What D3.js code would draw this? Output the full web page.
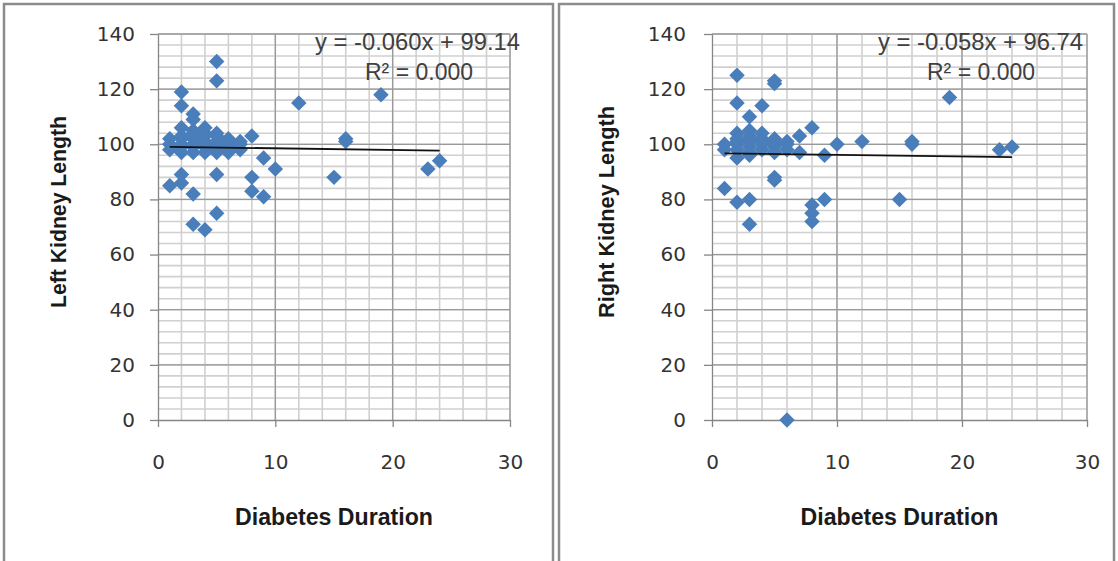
<!DOCTYPE html>
<html>
<head>
<meta charset="utf-8">
<script src="https://cdn.jsdelivr.net/npm/d3@7"></script>
<style>
body { margin: 0; background: #fff; }
</style>
</head>
<body>
<div id="chart"></div>
<script>

// left kidney: diabetes duration (years) vs length
var leftDuration = [1, 1, 1, 1,
	2, 2, 2, 2, 2, 2, 2, 2, 2, 2,
	3, 3, 3, 3, 3, 3, 3, 3, 3, 3,
	4, 4, 4, 4, 4, 4, 4, 4,
	5, 5, 5, 5, 5, 5, 5, 5, 5, 5,
	6, 6, 6, 6, 7, 7, 7, 8, 8, 8, 9, 9, 10, 12, 15, 16, 16, 19, 23, 24];
var leftLength = [100, 102, 98, 85,
	119, 114, 106, 103, 102, 100, 99, 97, 89, 86,
	111, 109, 105, 104, 102, 100, 99, 97, 82, 71,
	106, 104, 103, 101, 100, 99, 97, 69,
	130, 123, 104, 103, 101, 100, 98, 97, 89, 75,
	102, 101, 99, 97, 98, 100, 101, 103, 88, 83, 95, 81, 91, 115, 88, 101, 102, 118, 91, 94];

// right kidney
var rightDuration = [1, 1, 1,
	2, 2, 2, 2, 2, 2, 2, 2, 2,
	3, 3, 3, 3, 3, 3, 3, 3, 3, 3,
	4, 4, 4, 4, 4, 4,
	5, 5, 5, 5, 5, 5, 5, 5, 5,
	6, 6, 6, 6, 7, 7, 8, 8, 8, 8, 9, 9, 10, 12, 15, 16, 16, 19, 23, 24];
var rightLength = [100, 98, 84,
	125, 115, 104, 102, 101, 100, 98, 95, 79,
	110, 105, 103, 102, 101, 99, 97, 96, 80, 71,
	114, 104, 102, 101, 100, 98,
	123, 122, 102, 101, 100, 99, 97, 88, 87,
	101, 100, 98, 0, 103, 97, 106, 78, 75, 72, 96, 80, 100, 101, 80, 100, 101, 117, 98, 99];

// linear trendlines as printed on the charts
var trendSlopes = [-0.060, -0.058];
var trendIntercepts = [99.14, 96.74];
var equationLabels = ["y = -0.060x + 99.14", "y = -0.058x + 96.74"];
var r2Labels = ["R\u00b2 = 0.000", "R\u00b2 = 0.000"];

var xTicks = [0, 10, 20, 30];
var yTicks = [0, 20, 40, 60, 80, 100, 120, 140];
var yTitles = ["Left Kidney Length", "Right Kidney Length"];
var xTitle = "Diabetes Duration";

function init(){

	var w = 1118;
	var h = 561;

	var svg = d3.select("#chart")
				.append("svg")
				.attr("width", w)
				.attr("height", h);

	//layout of the two panels
	var panels = [
		{box: [4, 4, 549], x0: 158, x1: 510, yLabelPad: 15, titleX: 66, titleLen: 192,
		 eqX: 315, r2X: 365, dur: leftDuration, len: leftLength},
		{box: [559, 4, 555], x0: 712, x1: 1087, yLabelPad: 18, titleX: 614, titleLen: 212,
		 eqX: 878, r2X: 927, dur: rightDuration, len: rightLength}
	];

	panels.forEach(function(p, k){
		drawPanel(svg, p, k);
	});
}

function drawPanel(svg, p, k){

	var top = 34, bottom = 420;

	//frame round each chart
	svg.append("rect")
		.attr("x", p.box[0])
		.attr("y", p.box[1])
		.attr("width", p.box[2])
		.attr("height", 600)
		.attr("fill", "none")
		.attr("stroke", "#8c8c8c")
		.attr("stroke-width", 2.5);

	var x = d3.scaleLinear().domain([0, 30]).range([p.x0, p.x1]);
	var y = d3.scaleLinear().domain([0, 140]).range([bottom, top]);

	var g = svg.append("g");

	//minor grid
	g.selectAll("line.vminor")
		.data(d3.range(2, 30.1, 2))
		.enter()
		.append("line")
		.attr("x1", function(d){ return x(d); })
		.attr("x2", function(d){ return x(d); })
		.attr("y1", top)
		.attr("y2", bottom)
		.attr("stroke", "#d0d0d0")
		.attr("stroke-width", 1.6);

	g.selectAll("line.hminor")
		.data(d3.range(4, 140.1, 4))
		.enter()
		.append("line")
		.attr("x1", p.x0)
		.attr("x2", p.x1)
		.attr("y1", function(d){ return y(d); })
		.attr("y2", function(d){ return y(d); })
		.attr("stroke", "#d0d0d0")
		.attr("stroke-width", 1.6);

	//major grid
	g.selectAll("line.vmajor")
		.data(xTicks.slice(1))
		.enter()
		.append("line")
		.attr("x1", function(d){ return x(d); })
		.attr("x2", function(d){ return x(d); })
		.attr("y1", top)
		.attr("y2", bottom)
		.attr("stroke", "#999")
		.attr("stroke-width", 1.3);

	g.selectAll("line.hmajor")
		.data(yTicks.slice(1))
		.enter()
		.append("line")
		.attr("x1", p.x0)
		.attr("x2", p.x1)
		.attr("y1", function(d){ return y(d); })
		.attr("y2", function(d){ return y(d); })
		.attr("stroke", "#999")
		.attr("stroke-width", 1.3);

	//axes
	var yAxis = d3.axisLeft(y)
				.tickValues(yTicks)
				.tickSize(8)
				.tickSizeOuter(0)
				.tickPadding(p.yLabelPad);
	var xAxis = d3.axisBottom(x)
				.tickValues(xTicks)
				.tickSize(7)
				.tickSizeOuter(0)
				.tickPadding(28);

	var ya = svg.append("g")
		.attr("transform", "translate(" + p.x0 + ",0)")
		.call(yAxis);
	var xa = svg.append("g")
		.attr("transform", "translate(0," + bottom + ")")
		.call(xAxis);

	[ya, xa].forEach(function(a){
		a.selectAll("path, line").attr("stroke", "#868686").attr("stroke-width", 1.3);
		a.selectAll("text")
			.attr("fill", "#333")
			.style("font-family", "'DejaVu Sans', sans-serif")
			.style("font-size", "20px");
	});

	//points as diamonds
	var pts = p.dur.map(function(d, i){ return [d, p.len[i]]; });
	var diamond = d3.symbol().type(d3.symbolSquare).size(120);

	svg.selectAll("path.pt" + k)
		.data(pts)
		.enter()
		.append("path")
		.attr("class", "pt" + k)
		.attr("d", diamond)
		.attr("fill", "#4a7ebb")
		.attr("transform", function(d){
			return "translate(" + x(d[0]) + "," + y(d[1]) + ") rotate(45)";
		});

	//trendline over the data range
	var ext = d3.extent(p.dur);
	var line = d3.line()
				.x(function(d){ return x(d); })
				.y(function(d){ return y(trendSlopes[k] * d + trendIntercepts[k]); });

	svg.append("path")
		.attr("d", line(ext))
		.attr("fill", "none")
		.attr("stroke", "#111")
		.attr("stroke-width", 1.8);

	//equation + r squared
	svg.append("text")
		.attr("x", p.eqX)
		.attr("y", 50)
		.attr("textLength", 205)
		.attr("lengthAdjust", "spacingAndGlyphs")
		.attr("fill", "#404040")
		.style("font-family", "'Liberation Sans', Arial, sans-serif")
		.style("font-size", "24px")
		.text(equationLabels[k]);

	svg.append("text")
		.attr("x", p.r2X)
		.attr("y", 80)
		.attr("textLength", 108)
		.attr("lengthAdjust", "spacingAndGlyphs")
		.attr("fill", "#404040")
		.style("font-family", "'Liberation Sans', Arial, sans-serif")
		.style("font-size", "24px")
		.text(r2Labels[k]);

	//axis titles
	svg.append("text")
		.attr("x", (p.x0 + p.x1) / 2)
		.attr("y", 525)
		.attr("text-anchor", "middle")
		.attr("textLength", 198)
		.attr("lengthAdjust", "spacingAndGlyphs")
		.attr("fill", "#1a1a1a")
		.style("font-family", "'Liberation Sans', Arial, sans-serif")
		.style("font-weight", "bold")
		.style("font-size", "23px")
		.text(xTitle);

	svg.append("text")
		.attr("transform", "translate(" + p.titleX + ",212) rotate(-90)")
		.attr("text-anchor", "middle")
		.attr("textLength", p.titleLen)
		.attr("lengthAdjust", "spacingAndGlyphs")
		.attr("fill", "#1a1a1a")
		.style("font-family", "'Liberation Sans', Arial, sans-serif")
		.style("font-weight", "bold")
		.style("font-size", "22px")
		.text(yTitles[k]);
}

window.onload = init;
</script>
</body>
</html>
